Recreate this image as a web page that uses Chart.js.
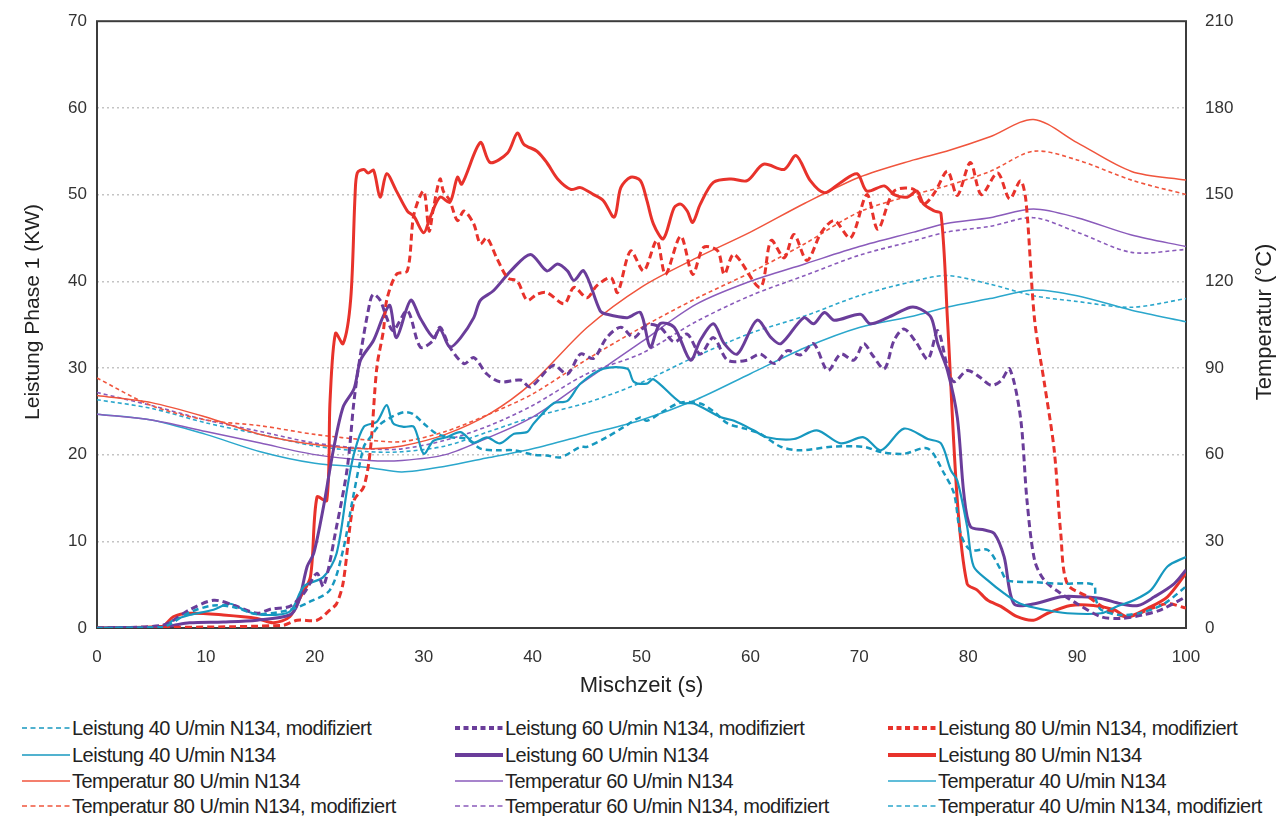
<!DOCTYPE html>
<html>
<head>
<meta charset="utf-8">
<script src="https://cdn.jsdelivr.net/npm/chart.js@4/dist/chart.umd.min.js"></script>
<style>
body { margin: 0; background: #fff; font-family: "Liberation Sans", Arial, sans-serif; }
#wrap { position: relative; width: 1278px; height: 700px; }
.item { position: absolute; display: flex; align-items: center; height: 24px; font-size: 20px; letter-spacing: -0.5px; color: #222; white-space: nowrap; }
.item svg { margin-right: 2px; }
</style>
</head>
<body>
<div id="wrap"><canvas id="myChart" width="1278" height="700"></canvas></div>
<div id="legend"></div>
<script>
// temperature curves share one time grid (s), values in °C
const tempTime = [0, 5, 10, 15, 20, 25, 28, 32, 36, 40, 45, 50, 55, 60, 65, 70, 75, 78, 82, 86, 90, 95, 100];
const temp80  = [80.5, 78, 73, 67, 63.5, 62, 63, 67, 74, 85, 104, 118, 128, 137, 147, 156, 162, 165, 170, 176, 168, 158, 155];
const temp80m = [86.5, 77, 72, 70, 67, 65, 64.5, 68, 74, 81, 93, 104, 114, 123, 133, 144, 150, 153, 158, 165, 162, 155, 150];
const temp60  = [74, 72, 68, 64, 60, 58, 58, 60, 66, 73, 86, 99, 112, 120, 126, 132, 137, 140, 142, 145, 142, 136, 132];
const temp60m = [81.5, 77, 72, 68, 64, 62, 62, 65, 70, 77, 88, 95, 106, 115, 122, 129, 134, 137, 139, 142, 137, 130, 131];
const temp40  = [74, 72, 67, 61, 57, 55.5, 54, 56, 59, 62, 67, 72, 79, 88, 97, 104, 108, 111, 114, 117, 115, 110, 106];
const temp40m = [79, 76, 71, 67, 63, 61, 61, 63, 68, 73, 78, 85, 94, 102, 108, 115, 120, 122, 119, 115, 113, 111, 114];

// power curves (kW), each with its own time points
const l80X = [0, 6, 7, 8.5, 11.6, 14.7, 16.2, 17.7, 18.7, 19.6, 20.2, 21.1, 21.4, 21.9, 22.6, 23.3, 23.7, 23.9, 24.5, 24.9, 25.4, 26, 26.6, 27.5, 28.5, 29.1, 30, 30.6, 31.5, 32.4, 33.1, 33.5, 35.2, 36.1, 37.7, 38.6, 39.2, 40.4, 41.3, 42.3, 43.5, 44.4, 45.6, 46.5, 47.5, 48.1, 49, 49.9, 50.5, 51.1, 52, 53, 53.6, 54.2, 54.7, 55.4, 56.6, 58.2, 59.7, 61.2, 63.1, 64.2, 65.5, 66.8, 68.3, 69.8, 70.7, 72.3, 73.2, 74.4, 75.3, 75.9, 76.9, 77.5, 78.1, 79, 79.9, 80.8, 81.8, 83, 84.5, 86, 87.3, 89.4, 91.5, 93.4, 94.6, 96.5, 98.3, 100];
const l80Y = [0, 0.2, 1.3, 1.7, 1.5, 1.1, 0.6, 1.3, 3.6, 5.9, 15.1, 14.7, 26.2, 34, 32.8, 38, 50, 52.5, 52.9, 52.5, 52.8, 49.7, 52.4, 50.4, 48.1, 47.5, 45.6, 47.4, 49.7, 49.1, 52, 51.2, 56, 53.7, 54.8, 57.1, 55.8, 55, 53.7, 51.8, 50.6, 50.8, 50, 49.3, 47.4, 50.8, 52, 51.6, 49.3, 46.6, 44.9, 48.5, 48.9, 48.1, 46.8, 48.9, 51.4, 51.8, 51.6, 53.5, 52.9, 54.5, 51.6, 50.2, 51.4, 52.4, 50.4, 51, 50, 49.7, 50.4, 48.9, 48.1, 47.8, 35.5, 14.7, 5.1, 4.4, 3.2, 2.5, 1.3, 0.9, 1.7, 2.6, 2.6, 2.1, 1.3, 2.3, 3.6, 6.3];

const l80mX = [0, 17, 18.4, 20.2, 21.4, 22, 22.6, 23.6, 24.5, 25.1, 25.7, 26.3, 26.6, 27.5, 28.5, 29.1, 30, 30.5, 30.9, 31.5, 31.8, 32.4, 33.1, 33.7, 34.6, 35.2, 35.8, 36.7, 37.7, 38.6, 39.5, 40.4, 41.3, 42.9, 43.8, 45, 45.9, 47.2, 47.8, 49, 50.2, 51.4, 52.2, 53.6, 54.7, 55.7, 57, 57.6, 58.5, 60.9, 61.9, 63.1, 64, 65.2, 66.5, 67.7, 69.2, 70.7, 71.7, 73.2, 75, 75.9, 76.9, 78.1, 79, 80.2, 81.2, 82.7, 83.8, 84.8, 85.3, 86.1, 87, 87.9, 88.5, 89.1, 91, 92.8, 94.6, 96.5, 98.3, 100];
const l80mY = [0, 0.3, 0.9, 0.9, 2.1, 2.8, 5.2, 14.7, 16.3, 20.5, 30.1, 34.3, 37.8, 40.8, 41.2, 47.7, 50.4, 45.8, 48.5, 51.8, 50.4, 49.3, 47, 48.1, 46.6, 44.3, 45, 42.7, 40.4, 40, 37.8, 38.5, 38.7, 37.4, 39.3, 38.1, 39.5, 40.4, 38.7, 43.5, 41.2, 44.7, 40.8, 45.2, 40.8, 43.9, 43.5, 40.8, 43.1, 39.3, 44.7, 42.7, 45.4, 42.4, 45.6, 47, 45, 50, 46, 50.4, 50.6, 48.9, 50.2, 52.7, 49.9, 53.7, 50, 52.5, 49.5, 51.6, 49.3, 35.5, 28.2, 20.5, 10.9, 5.1, 3.6, 2.1, 1.3, 2.1, 2.8, 2.3];

const l60X = [0, 6, 7, 8.5, 11.6, 14.7, 17.7, 18.5, 19.3, 19.9, 20.8, 21.7, 22.6, 23.6, 24.2, 25.4, 26.3, 26.9, 27.5, 28.8, 29.7, 30.9, 31.5, 32.4, 33.4, 34.6, 35.2, 36.4, 38, 39.8, 41.3, 42.3, 43.2, 43.8, 44.7, 46.2, 46.8, 48.7, 49.9, 50.8, 51.7, 53, 54.5, 55.4, 56.6, 57.6, 58.8, 60.6, 61.9, 62.8, 64.9, 65.8, 66.8, 67.7, 70.1, 71, 72.6, 74.7, 75.6, 76.6, 77.2, 78.1, 79, 79.6, 80.2, 81.5, 82.4, 83.3, 84.2, 86.1, 88.5, 90.4, 92.2, 94, 95.6, 97.1, 98.9, 100];
const l60Y = [0, 0.1, 0.3, 0.6, 0.7, 0.9, 1.5, 3, 7.1, 8.6, 14, 20.5, 25.5, 27.6, 30.9, 33.2, 36, 37.2, 33.5, 37.8, 35.7, 33.5, 34.5, 32.4, 33.5, 35.8, 37.8, 38.9, 41.2, 43.1, 41.2, 42, 41.2, 40.1, 41.2, 36.6, 36.2, 35.8, 36.4, 32.4, 35.1, 34.7, 30.9, 33.2, 35.1, 32.8, 31.6, 35.5, 33.5, 32.8, 35.8, 35.1, 36.4, 35.5, 36.2, 35.1, 35.8, 37, 36.8, 35.8, 32.8, 29.7, 24.3, 15.5, 11.7, 11.3, 10.9, 8.2, 2.8, 2.8, 3.6, 3.6, 3.4, 2.8, 2.6, 3.6, 5.1, 6.7];

const l60mX = [0, 6, 8.5, 10.7, 12.6, 14.7, 16, 17.7, 19, 20.2, 20.8, 22, 23, 23.6, 24.2, 25.1, 25.4, 26, 26.6, 27.2, 28.5, 29.7, 30.9, 31.5, 32.4, 33.7, 34.6, 35.8, 37, 38.9, 39.8, 41.9, 43.2, 44.4, 45.6, 46.8, 48.1, 49.3, 50.5, 51.7, 53, 54.2, 55.4, 56.6, 57.9, 59.7, 60.9, 62.2, 63.4, 64.6, 65.8, 67.1, 68.3, 69.5, 70.4, 71.2, 72.3, 73.2, 74.1, 75.2, 76.3, 77.2, 78.1, 78.7, 79.9, 81, 82.1, 83, 83.8, 84.8, 85.4, 86.1, 87, 88.5, 90, 92.2, 94, 96, 97.7, 100];
const l60mY = [0, 0.3, 2.1, 3.2, 2.6, 1.7, 2.2, 2.5, 4, 6.3, 4.8, 11.7, 18.6, 26.2, 31.6, 37.8, 38.5, 37.8, 35.8, 34.3, 36.6, 32.4, 33.2, 34.7, 32.4, 30.5, 31.2, 29.3, 28.4, 28.6, 27.8, 30.3, 29.3, 31.6, 31.1, 33.5, 34.7, 33.5, 35, 34.7, 33, 33.9, 31.6, 33.5, 30.9, 30.9, 31.6, 30.5, 32, 31.5, 32.8, 29.7, 31.6, 30.9, 32.8, 31.5, 29.9, 33.2, 34.5, 33, 31, 34.3, 30.1, 28.4, 29.7, 29, 28, 28.5, 29.9, 24.3, 14.7, 7.8, 5.5, 4, 2.8, 1.3, 1.1, 1.5, 2.1, 3.6];

const l40X = [0, 6, 7, 8.5, 10.7, 12.2, 13.8, 15.3, 17.7, 19, 20.8, 22, 23, 23.6, 24.5, 25.7, 26.6, 27.2, 28.2, 29.1, 30, 30.9, 32.1, 33.4, 34.6, 35.8, 37, 38.3, 39.5, 40.1, 41.9, 43.2, 44.4, 46.5, 48.7, 49.3, 50.5, 51.1, 53.6, 54.8, 57.3, 58.5, 60.3, 61.5, 64, 66.1, 68.3, 70.4, 72, 74.1, 76.3, 77.5, 78.4, 79, 79.9, 80.5, 81.8, 83.3, 84.8, 87, 89.1, 92.2, 93.7, 95.2, 96.8, 98.3, 100];
const l40Y = [0, 0.1, 0.9, 1.5, 2.1, 2.8, 1.9, 1.5, 1.9, 4.8, 5.9, 8.6, 16.3, 20.1, 23.2, 23.8, 25.7, 23.6, 23.2, 23.2, 20.1, 21.6, 22, 22.6, 21.4, 22, 21.3, 22.4, 22.6, 23.6, 25.9, 26.2, 28.2, 29.9, 29.9, 28.4, 28.2, 28.7, 26, 25.9, 24.3, 23.9, 22.8, 22, 21.8, 22.8, 21.3, 22, 20.5, 23, 21.8, 21.3, 18.2, 17, 11.7, 7.1, 5.5, 4, 2.8, 2.1, 1.7, 1.7, 2.5, 3.2, 4.4, 7.1, 8.2];

const l40mX = [0, 6, 8.5, 10.7, 12.6, 14.7, 17.7, 19.5, 21.4, 22.6, 23.5, 24.5, 25.1, 26, 27, 28.2, 29, 30, 31.2, 32.5, 34, 35.2, 36.7, 38.3, 40, 41.3, 42.6, 44.4, 45, 46.8, 48.4, 49.9, 50.5, 52, 53.6, 55.4, 56.6, 57.9, 59.5, 60.9, 62.8, 64.6, 67.4, 70.4, 72, 74.1, 76.3, 77.8, 78.7, 79.3, 80.2, 81.8, 83, 83.6, 86, 88.5, 91.5, 91.7, 92.2, 94, 96, 98, 100];
const l40mY = [0, 0.1, 1.8, 2.6, 2.4, 1.6, 2.1, 3, 4.4, 9, 15, 20.9, 22, 23.5, 24.3, 24.9, 24.7, 23.6, 22.4, 22, 21.8, 20.7, 20.5, 20.5, 20, 19.9, 19.7, 20.9, 20.9, 22, 23.2, 24.3, 23.9, 25, 26, 25.9, 25, 23.6, 23, 22.4, 20.9, 20.5, 20.9, 20.9, 20.3, 20.1, 20.7, 17.8, 15.5, 10.9, 9, 9, 6.7, 5.5, 5.3, 5.1, 5, 3.4, 2.1, 1.5, 1.8, 2.8, 4.8];

const xTicks = [0, 10, 20, 30, 40, 50, 60, 70, 80, 90, 100];

function pts(xs, ys) {
    return xs.map((x, i) => ({x: x, y: ys[i]}));
}

const RED = '#e8322b', RED_T = '#f0553d';
const PURPLE = '#6a3d9a', PURPLE_T = '#8a5bbb';
const CYAN = '#1798bf', CYAN_T = '#2ba7cc';

const series = [
    {label: 'Leistung 40 U/min N134, modifiziert', data: pts(l40mX, l40mY), color: CYAN, w: 2.5, dash: [6, 4], axis: 'y', lw: 1.6},
    {label: 'Leistung 60 U/min N134, modifiziert', data: pts(l60mX, l60mY), color: PURPLE, w: 3, dash: [7, 4], axis: 'y', lw: 4},
    {label: 'Leistung 80 U/min N134, modifiziert', data: pts(l80mX, l80mY), color: RED, w: 3, dash: [7, 4], axis: 'y', lw: 4},
    {label: 'Leistung 40 U/min N134', data: pts(l40X, l40Y), color: CYAN, w: 2.2, dash: [], axis: 'y', lw: 1.6},
    {label: 'Leistung 60 U/min N134', data: pts(l60X, l60Y), color: PURPLE, w: 3, dash: [], axis: 'y', lw: 4},
    {label: 'Leistung 80 U/min N134', data: pts(l80X, l80Y), color: RED, w: 3, dash: [], axis: 'y', lw: 4},
    {label: 'Temperatur 80 U/min N134', data: pts(tempTime, temp80), color: RED_T, w: 1.5, dash: [], axis: 'y1', lw: 1.6},
    {label: 'Temperatur 60 U/min N134', data: pts(tempTime, temp60), color: PURPLE_T, w: 1.5, dash: [], axis: 'y1', lw: 1.6},
    {label: 'Temperatur 40 U/min N134', data: pts(tempTime, temp40), color: CYAN_T, w: 1.5, dash: [], axis: 'y1', lw: 1.6},
    {label: 'Temperatur 80 U/min N134, modifiziert', data: pts(tempTime, temp80m), color: RED_T, w: 1.6, dash: [4, 3], axis: 'y1', lw: 1.6},
    {label: 'Temperatur 60 U/min N134, modifiziert', data: pts(tempTime, temp60m), color: PURPLE_T, w: 1.6, dash: [4, 3], axis: 'y1', lw: 1.6},
    {label: 'Temperatur 40 U/min N134, modifiziert', data: pts(tempTime, temp40m), color: CYAN_T, w: 1.6, dash: [4, 3], axis: 'y1', lw: 1.6}
];

const FONT = '"Liberation Sans", Arial, sans-serif';

function rotatedText(c, text, x, y, size) {
    c.save();
    c.translate(x, y);
    c.rotate(-Math.PI / 2);
    c.font = size + 'px ' + FONT;
    c.fillStyle = '#222';
    c.textAlign = 'center';
    c.textBaseline = 'middle';
    c.fillText(text, 0, 0);
    c.restore();
}

const frame = {
    id: 'frame',
    beforeDatasetsDraw(chart) {
        const a = chart.chartArea;
        const c = chart.ctx;
        c.save();
        c.strokeStyle = '#3c3c3c';
        c.lineWidth = 2;
        c.strokeRect(a.left, a.top, a.right - a.left, a.bottom - a.top);
        c.restore();
    },
    afterDraw(chart) {
        // both y titles read bottom to top
        rotatedText(chart.ctx, 'Leistung Phase 1 (KW)', 33, 312, 21);
        rotatedText(chart.ctx, 'Temperatur (°C)', 1265, 322, 22);
    }
};

const ctx = document.getElementById('myChart').getContext('2d');
const myChart = new Chart(ctx, {
    type: 'line',
    data: {
        datasets: series.map(s => ({
            label: s.label,
            data: s.data,
            yAxisID: s.axis,
            borderColor: s.color,
            borderWidth: s.w,
            borderDash: s.dash,
            pointRadius: 0,
            tension: 0.3,
            fill: false
        }))
    },
    options: {
        responsive: false,
        animation: false,
        layout: {padding: {top: 20, left: 0, right: 0, bottom: 0}},
        plugins: {legend: {display: false}, tooltip: {enabled: false}},
        scales: {
            x: {
                type: 'linear',
                min: 0,
                max: 100,
                afterBuildTicks: s => { s.ticks = xTicks.map(v => ({value: v})); },
                grid: {display: false},
                border: {display: false},
                ticks: {color: '#333', font: {family: FONT, size: 17}, padding: 11, maxRotation: 0},
                title: {display: true, text: 'Mischzeit (s)', color: '#222', font: {family: FONT, size: 22}, padding: {top: 0, bottom: 1}},
                afterFit: s => { s.height = 72; }
            },
            y: {
                position: 'left',
                min: 0,
                max: 70,
                ticks: {stepSize: 10, color: '#333', font: {family: FONT, size: 17}, padding: 10},
                grid: {
                    color: c => (c.tick.value === 0 || c.tick.value === 70) ? 'rgba(0,0,0,0)' : '#c4c4c4',
                    lineWidth: 1.5,
                    drawTicks: false
                },
                border: {display: false, dash: [2, 3]},
                afterFit: s => { s.width = 97; }
            },
            y1: {
                position: 'right',
                min: 0,
                max: 210,
                ticks: {stepSize: 30, color: '#333', font: {family: FONT, size: 17}, padding: 11},
                grid: {display: false},
                border: {display: false},
                afterFit: s => { s.width = 92; }
            }
        }
    },
    plugins: [frame]
});

// legend in three columns below the chart
const legendCols = [22, 455, 888];
const legendRows = [728, 755, 781, 806];
const legend = document.getElementById('legend');
series.forEach((s, i) => {
    const item = document.createElement('div');
    item.className = 'item';
    item.style.left = legendCols[i % 3] + 'px';
    item.style.top = (legendRows[Math.floor(i / 3)] - 12) + 'px';
    const dash = s.dash.length ? '5,3.5' : 'none';
    item.innerHTML = '<svg width="48" height="10"><line x1="0" y1="5" x2="48" y2="5" stroke="' + s.color +
        '" stroke-width="' + s.lw + '" stroke-dasharray="' + dash + '"/></svg><span>' + s.label + '</span>';
    legend.appendChild(item);
});
</script>
</body>
</html>
